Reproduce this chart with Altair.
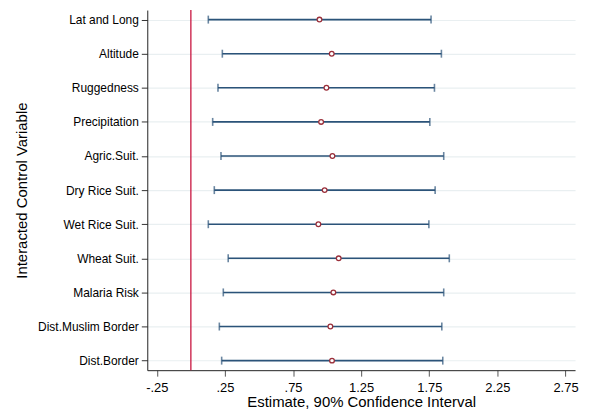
import altair as alt
import pandas as pd

labels = ["Lat and Long", "Altitude", "Ruggedness", "Precipitation", "Agric.Suit.",
          "Dry Rice Suit.", "Wet Rice Suit.", "Wheat Suit.", "Malaria Risk",
          "Dist.Muslim Border", "Dist.Border"]
estimate = [0.944, 1.034, 0.995, 0.956, 1.039, 0.982, 0.936, 1.085, 1.046, 1.024, 1.036]
lower = [0.128, 0.231, 0.199, 0.160, 0.221, 0.172, 0.128, 0.274, 0.238, 0.209, 0.226]
upper = [1.763, 1.839, 1.788, 1.754, 1.856, 1.793, 1.747, 1.897, 1.856, 1.842, 1.849]
x_ticks = [-0.25, 0.25, 0.75, 1.25, 1.75, 2.25, 2.75]
x_tick_labels = ["-.25", ".25", ".75", "1.25", "1.75", "2.25", "2.75"]
ref_line = [0]

df = pd.DataFrame({"label": labels, "est": estimate, "lo": lower, "hi": upper})
ref = pd.DataFrame({"x": ref_line})

label_expr = ""
for v, t in zip(x_ticks, x_tick_labels):
    label_expr += f"abs(datum.value - ({v})) < 0.001 ? '{t}' : "
label_expr += "''"

FONT = "Liberation Sans"

xscale = alt.Scale(domain=[-0.32, 2.82], nice=False, zero=False)
yscale = alt.Scale(type="point", padding=0.28, domain=labels)

xaxis = alt.Axis(values=x_ticks, labelExpr=label_expr, grid=False,
                 title="Estimate, 90% Confidence Interval",
                 titleFontSize=15, titleFont=FONT, titleFontWeight="normal",
                 titleColor="black", titleBaseline="alphabetic", titleY=37,
                 labelFontSize=13, labelFont=FONT, labelColor="black",
                 labelPadding=5, tickSize=6, tickColor="#555555",
                 domainColor="#222222", labelFlush=False)
yaxis = alt.Axis(title="Interacted Control Variable", grid=True,
                 gridColor="#e9eff1", gridWidth=1.2,
                 titleFontSize=15, titleFont=FONT, titleFontWeight="normal",
                 titleColor="black", titleX=-121, titleBaseline="alphabetic",
                 labelFontSize=12, labelFont=FONT, labelColor="black",
                 labelPadding=3, tickSize=6, tickColor="#333333",
                 domainColor="#222222")

base = alt.Chart(df)

bars = base.mark_rule(color="#2b5379", strokeWidth=1.6).encode(
    x=alt.X("lo:Q", scale=xscale, axis=xaxis),
    x2="hi:Q",
    y=alt.Y("label:N", scale=yscale, axis=yaxis, sort=labels),
)
cap_lo = base.mark_tick(color="#2b5379", thickness=1.6, size=8, orient="vertical").encode(
    x="lo:Q", y=alt.Y("label:N", sort=labels))
cap_hi = base.mark_tick(color="#2b5379", thickness=1.6, size=8, orient="vertical").encode(
    x="hi:Q", y=alt.Y("label:N", sort=labels))
pts = base.mark_point(shape="circle", filled=False, fill="white", fillOpacity=1,
                      color="#9b2f3a", strokeWidth=1.3, size=22, opacity=1).encode(
    x="est:Q", y=alt.Y("label:N", sort=labels))
vline = alt.Chart(ref).mark_rule(color="#c8143f", strokeWidth=1.3).encode(x="x:Q")

chart = alt.layer(vline, bars, cap_lo, cap_hi, pts).properties(
    width=430, height=362,
    background="white",
    autosize=alt.AutoSizeParams(type="none"),
    padding={"left": 140, "top": 1, "right": 10, "bottom": 45},
).configure_view(strokeWidth=0, strokeOpacity=0)

chart.save("out.html", embed_options={"renderer": "svg", "actions": False})
